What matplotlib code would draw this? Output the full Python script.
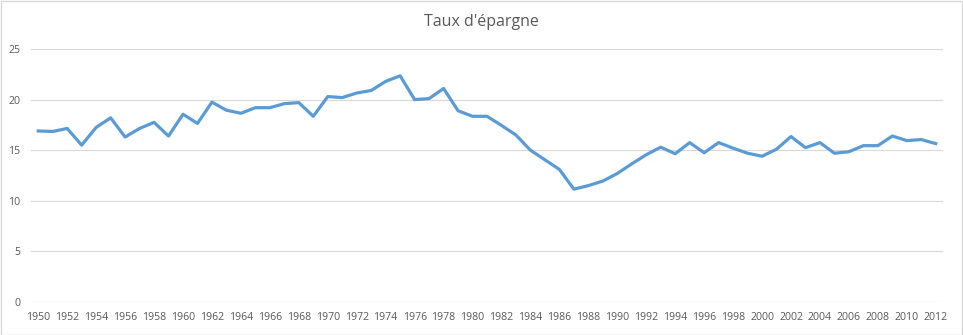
import matplotlib.pyplot as plt
from matplotlib.patches import Rectangle

# savings rate per year
years = list(range(1950, 2013))
taux = [16.9, 16.85, 17.15, 15.5, 17.25, 18.2, 16.3, 17.15, 17.75, 16.4,
        18.55, 17.65, 19.75, 18.95, 18.65, 19.2, 19.2, 19.6, 19.7, 18.35,
        20.3, 20.2, 20.65, 20.9, 21.8, 22.35, 20.0, 20.1, 21.1, 18.9,
        18.35, 18.35, 17.45, 16.5, 15.0, 14.05, 13.1, 11.15, 11.5, 11.95,
        12.7, 13.65, 14.55, 15.3, 14.65, 15.75, 14.75, 15.75, 15.2, 14.7,
        14.4, 15.1, 16.35, 15.25, 15.75, 14.7, 14.85, 15.45, 15.45, 16.4,
        15.95, 16.05, 15.65]
yticks = [0, 5, 10, 15, 20, 25]
xticks = years[::2]

plt.rcParams['font.family'] = ['Open Sans', 'DejaVu Sans']

fig = plt.figure(figsize=(9.63, 3.35), dpi=100)
ax = fig.add_axes([31 / 963, 1 - 302 / 335, 912 / 963, 253 / 335])

ax.plot(years, taux, color='#5B9BD5', lw=2.3, solid_joinstyle='round')

ax.set_xlim(1949.5, 2012.5)
ax.set_ylim(0, 25)
ax.set_yticks(yticks)
ax.set_xticks(xticks)
ax.set_xticklabels([str(y) for y in xticks])
ax.grid(axis='y', color='#D9D9D9', lw=0.8)
ax.set_axisbelow(True)
for s in ax.spines.values():
    s.set_visible(False)
ax.tick_params(length=0, labelsize=7.6, colors='#595959')
ax.tick_params(axis='y', pad=7.5)
ax.tick_params(axis='x', pad=7)

fig.text(0.5, 1 - 22 / 335, "Taux d'épargne", ha='center', va='center',
         fontsize=11.5, color='#595959')

fig.patches.append(Rectangle((0.5 / 963, 0.5 / 335), 961.5 / 963, 333.5 / 335,
                             transform=fig.transFigure, fill=False,
                             edgecolor='#D9D9D9', lw=1))

fig.savefig('out.png', dpi=100)
